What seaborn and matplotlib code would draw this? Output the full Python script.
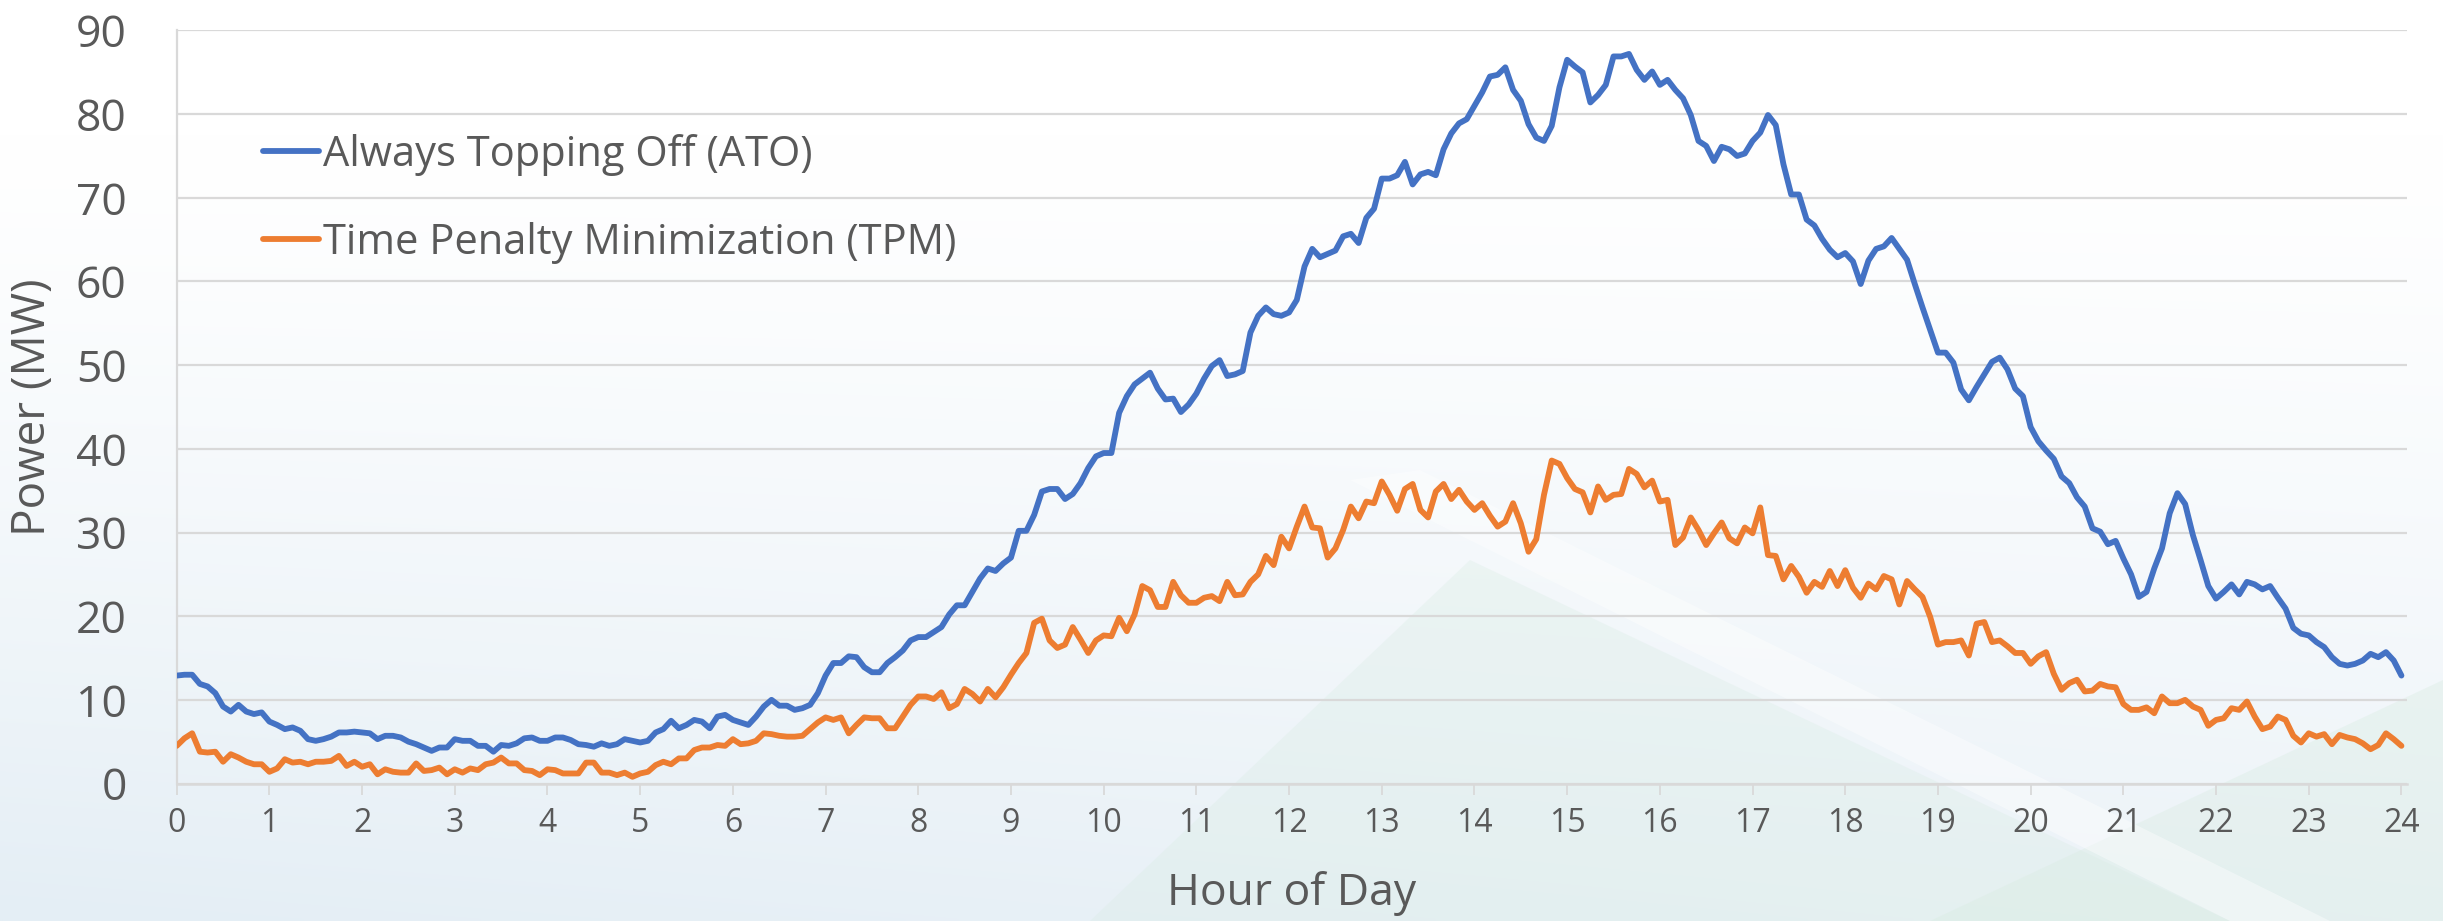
import numpy as np
import pandas as pd
import matplotlib
matplotlib.use("Agg")
import matplotlib.pyplot as plt
from matplotlib.patches import Polygon
import seaborn as sns

# ---------------- data (5-minute resolution, 0..24 h) ----------------
ato_mw = [
    12.9, 13.0, 13.0, 11.9, 11.6, 10.8, 9.2, 8.6, 9.4, 8.6, 8.3, 8.5,
    7.4, 7.0, 6.5, 6.7, 6.3, 5.3, 5.1, 5.3, 5.6, 6.1, 6.1, 6.2,
    6.1, 6.0, 5.3, 5.7, 5.7, 5.5, 5.0, 4.7, 4.3, 3.9, 4.3, 4.3,
    5.3, 5.1, 5.1, 4.5, 4.5, 3.8, 4.6, 4.5, 4.8, 5.4,
    5.5, 5.1, 5.1, 5.5, 5.5, 5.2, 4.7, 4.6, 4.4, 4.8, 4.5, 4.7,
    5.3, 5.1, 4.9, 5.1, 6.1, 6.5, 7.5, 6.6, 7.0, 7.6, 7.4, 6.6,
    8.0, 8.2, 7.6, 7.3, 7.0, 8.0, 9.2, 10.0, 9.3, 9.3, 8.8, 9.0,
    9.4, 10.8, 12.9, 14.4, 14.4, 15.2, 15.1, 13.9, 13.3, 13.3, 14.4, 15.1,
    15.9, 17.1, 17.5, 17.5,
    18.1, 18.7, 20.2, 21.3, 21.3, 22.9, 24.5, 25.7, 25.4, 26.3, 27.0, 30.2,
    30.2, 32.1, 34.9, 35.2, 35.2, 34.0, 34.6, 35.9, 37.7, 39.1, 39.5, 39.5,
    44.3, 46.3, 47.7, 48.4, 49.1, 47.2, 45.9, 46.0, 44.4, 45.3, 46.6, 48.4,
    49.9, 50.6, 48.7, 48.9, 49.3, 53.9, 55.9, 56.9,
    56.1, 55.9, 56.3, 57.8, 61.8, 63.9, 62.9, 63.3, 63.7, 65.4, 65.7, 64.6,
    67.6, 68.7, 72.3, 72.3, 72.7, 74.3, 71.6, 72.8, 73.1, 72.7, 75.8, 77.7,
    78.9, 79.4, 81.0, 82.6, 84.5, 84.7, 85.6, 82.9, 81.6, 78.8, 77.2, 76.8,
    78.6, 83.2, 86.5, 85.7, 85.0, 81.4, 82.3, 83.5, 86.9, 86.9, 87.2, 85.3,
    84.1, 85.1, 83.5, 84.1,
    82.9, 81.9, 79.9, 76.8, 76.2, 74.4, 76.1, 75.8, 75.0, 75.3, 76.8, 77.8,
    79.9, 78.7, 74.0, 70.4, 70.4, 67.4, 66.7, 65.1, 63.8, 62.9, 63.4, 62.4,
    59.7, 62.5, 63.9, 64.2, 65.2, 63.9, 62.6, 59.7, 56.9, 54.2, 51.5, 51.5,
    50.3, 47.1, 45.8, 47.4, 48.9, 50.4, 50.9, 49.5, 47.2, 46.3, 42.6, 40.9,
    39.8, 38.8, 36.7, 35.9, 34.2, 33.1, 30.5, 30.1, 28.6, 29.0, 26.9, 25.0,
    22.3, 22.9, 25.7, 28.1, 32.3, 34.7, 33.4, 29.7, 26.7, 23.6, 22.1, 22.9,
    23.8, 22.6, 24.1, 23.8, 23.2, 23.6, 22.2, 20.9, 18.6, 17.9, 17.7, 16.9,
    16.3, 15.1, 14.3, 14.1, 14.3, 14.7, 15.5, 15.1, 15.7, 14.7, 12.9,
]

tpm_mw = [
    4.5, 5.4, 6.0, 3.8, 3.7, 3.8, 2.6, 3.5, 3.1, 2.6, 2.3, 2.3,
    1.4, 1.8, 2.9, 2.5, 2.6, 2.3, 2.6, 2.6, 2.7, 3.3, 2.1, 2.6,
    2.0, 2.3, 1.1, 1.7, 1.4, 1.3, 1.3, 2.4, 1.5, 1.6, 1.9, 1.1,
    1.7, 1.3, 1.8, 1.6, 2.3, 2.5, 3.1, 2.4, 2.4, 1.6,
    1.5, 1.0, 1.7, 1.6, 1.2, 1.2, 1.2, 2.5, 2.5, 1.3, 1.3, 1.0,
    1.3, 0.8, 1.2, 1.4, 2.2, 2.6, 2.3, 3.0, 3.0, 4.0, 4.3, 4.3,
    4.6, 4.5, 5.3, 4.7, 4.8, 5.1, 6.0, 5.9, 5.7, 5.6, 5.6, 5.7,
    6.5, 7.3, 7.9, 7.6, 7.9, 6.0, 7.0, 7.9, 7.8, 7.8, 6.6, 6.6,
    8.0, 9.4, 10.4, 10.4,
    10.1, 10.9, 9.0, 9.5, 11.3, 10.7, 9.8, 11.3, 10.3, 11.5, 13.0, 14.4,
    15.6, 19.2, 19.7, 17.1, 16.2, 16.6, 18.7, 17.2, 15.6, 17.1, 17.7, 17.6,
    19.8, 18.2, 20.2, 23.6, 23.1, 21.1, 21.1, 24.1, 22.5, 21.6, 21.6, 22.2,
    22.4, 21.8, 24.1, 22.5, 22.6, 24.1, 25.0, 27.2,
    26.1, 29.5, 28.1, 30.7, 33.1, 30.6, 30.5, 27.0, 28.1, 30.3, 33.1, 31.7,
    33.7, 33.5, 36.1, 34.5, 32.6, 35.2, 35.8, 32.7, 31.8, 34.9, 35.8, 34.0,
    35.1, 33.7, 32.7, 33.5, 32.0, 30.7, 31.3, 33.5, 31.1, 27.7, 29.2, 34.5,
    38.6, 38.2, 36.5, 35.2, 34.8, 32.4, 35.5, 33.9, 34.5, 34.6, 37.6, 37.0,
    35.4, 36.2, 33.7, 33.9,
    28.5, 29.4, 31.8, 30.3, 28.5, 29.9, 31.2, 29.3, 28.7, 30.6, 29.9, 33.0,
    27.3, 27.2, 24.4, 26.0, 24.7, 22.8, 24.1, 23.5, 25.4, 23.6, 25.5, 23.4,
    22.2, 23.9, 23.2, 24.8, 24.4, 21.4, 24.2, 23.2, 22.3, 19.9, 16.6, 16.9,
    16.9, 17.1, 15.3, 19.1, 19.3, 16.9, 17.1, 16.4, 15.6, 15.6, 14.3, 15.2,
    15.7, 13.1, 11.2, 12.0, 12.4, 11.0, 11.1, 11.9, 11.6, 11.5, 9.5, 8.8,
    8.8, 9.1, 8.4, 10.4, 9.6, 9.6, 10.0, 9.2, 8.8, 6.9, 7.6, 7.8,
    9.0, 8.8, 9.8, 8.0, 6.5, 6.8, 8.0, 7.6, 5.7, 4.9, 6.0, 5.6,
    5.9, 4.7, 5.8, 5.5, 5.3, 4.8, 4.1, 4.6, 6.0, 5.3, 4.5,
]

series_names = ["Always Topping Off (ATO)", "Time Penalty Minimization (TPM)"]
series_colors = ["#4472C4", "#ED7D31"]
hour_ticks = list(range(0, 25))
power_ticks = list(range(0, 91, 10))

steps_per_hour = 12
hours = np.arange(len(ato_mw)) / steps_per_hour

df = pd.concat([
    pd.DataFrame({"Hour": hours, "Power": ato_mw, "Strategy": series_names[0]}),
    pd.DataFrame({"Hour": hours, "Power": tpm_mw, "Strategy": series_names[1]}),
], ignore_index=True)

# ---------------- style ----------------
sns.set_theme(style="white")
plt.rcParams["font.family"] = ["Open Sans", "DejaVu Sans"]
TXT = "#595959"
GRID = "#d9d9d9"

W, H = 2443, 921
fig = plt.figure(figsize=(W / 100, H / 100), dpi=100)

# background (soft slide-like gradient)
bg = fig.add_axes([0, 0, 1, 1], zorder=0)
bg.set_xlim(0, W)
bg.set_ylim(H, 0)
bg.axis("off")
ny, nx = 200, 400
yy, xx = np.mgrid[0:1:ny * 1j, 0:1:nx * 1j]
f = np.clip((yy - 0.15) / 0.85, 0, 1) ** 1.2
f = f * (1.0 - 0.3 * xx)
top = np.array([1.0, 1.0, 1.0])
bot = np.array([0xe4, 0xee, 0xf5]) / 255
img = top[None, None, :] * (1 - f[..., None]) + bot[None, None, :] * f[..., None]
bg.imshow(img, extent=[0, W, H, 0], aspect="auto", interpolation="bilinear", zorder=0)
bg.add_patch(Polygon([(1090, 921), (1470, 560), (2230, 921)], closed=True,
                     facecolor="#d9ece4", alpha=0.32, edgecolor="none", zorder=1))
bg.add_patch(Polygon([(1350, 480), (2230, 921), (2330, 921), (1420, 470)], closed=True,
                     facecolor="#ffffff", alpha=0.4, edgecolor="none", zorder=2))
bg.add_patch(Polygon([(1930, 921), (2443, 680), (2443, 921)], closed=True,
                     facecolor="#d9ece2", alpha=0.38, edgecolor="none", zorder=1))

x0, x1 = 176.7, 2407
y0, y1 = 783.5, 30.5
ax = fig.add_axes([x0 / W, (H - y0) / H, (x1 - x0) / W, (y0 - y1) / H], zorder=1)
ax.set_facecolor("none")

sns.lineplot(data=df, x="Hour", y="Power", hue="Strategy", hue_order=series_names,
             palette=series_colors, estimator=None, linewidth=4.2, ax=ax,
             solid_joinstyle="round", solid_capstyle="round", zorder=3)

ax.set_xlim(0, 24.06)
ax.set_ylim(0, 90)
ax.set_xticks(hour_ticks)
ax.set_xticklabels([str(h) for h in hour_ticks])
ax.set_yticks(power_ticks)
ax.set_yticklabels([str(p) for p in power_ticks])

ax.grid(axis="y", color=GRID, linewidth=1.6, zorder=0)
ax.grid(axis="x", visible=False)
for side in ["top", "right"]:
    ax.spines[side].set_visible(False)
ax.spines["left"].set_color(GRID)
ax.spines["left"].set_linewidth(1.6)
ax.spines["bottom"].set_color(GRID)
ax.spines["bottom"].set_linewidth(1.8)

ax.tick_params(axis="x", which="major", bottom=True, direction="out", length=8,
               width=1.3, color=GRID, labelsize=23, labelcolor=TXT, pad=9)
ax.tick_params(axis="y", which="major", left=False, length=0, labelsize=32,
               labelcolor=TXT, pad=36)

ax.set_xlabel("Hour of Day", fontsize=32, color=TXT, labelpad=22)
ax.set_ylabel("Power (MW)", fontsize=33, color=TXT, labelpad=14)

handles, labels = ax.get_legend_handles_labels()
leg = ax.legend(handles, labels, loc="center left",
                bbox_to_anchor=(263 / W, (H - 199) / H), bbox_transform=fig.transFigure,
                frameon=False, fontsize=30, handlelength=1.35, handletextpad=0.08,
                labelspacing=1.1, borderpad=0, borderaxespad=0)
for t in leg.get_texts():
    t.set_color(TXT)
for line in leg.get_lines():
    line.set_linewidth(4.2)

fig.savefig("out.png", dpi=100)
